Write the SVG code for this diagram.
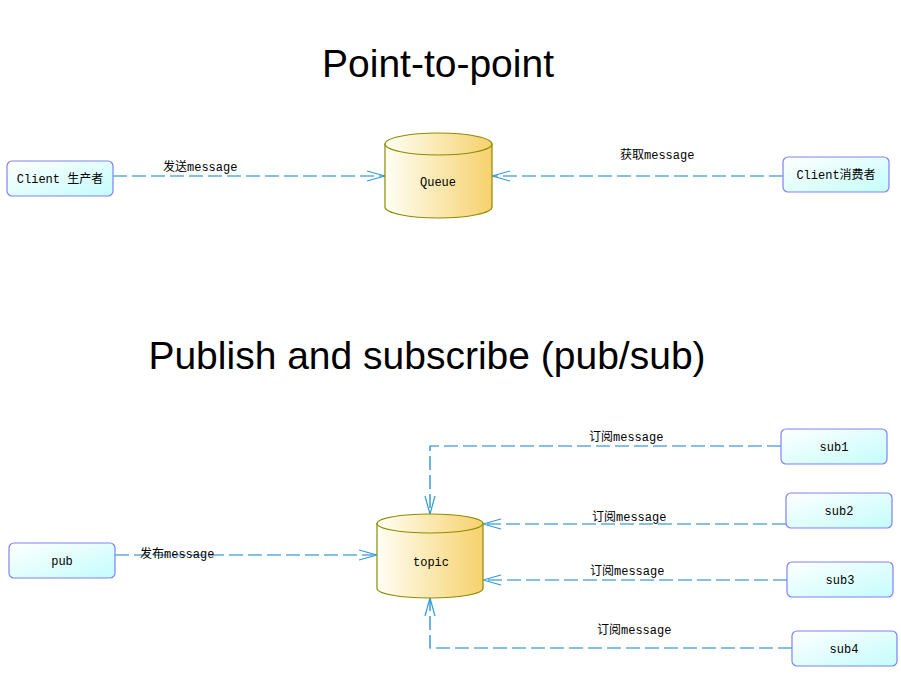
<svg xmlns="http://www.w3.org/2000/svg" width="901" height="674" viewBox="0 0 901 674">
<defs>
<linearGradient id="boxg" x1="0" y1="0" x2="1" y2="1">
<stop offset="0" stop-color="#FFFFFF"/>
<stop offset="1" stop-color="#C4FCFC"/>
</linearGradient>
<linearGradient id="cylg" x1="0" y1="0" x2="1" y2="0">
<stop offset="0" stop-color="#FFFFF6"/>
<stop offset="1" stop-color="#F7D16C"/>
</linearGradient>
<marker id="arr" viewBox="0 0 20 12" refX="19" refY="6" markerWidth="20" markerHeight="12" markerUnits="userSpaceOnUse" orient="auto">
<path d="M1,1 L19,6 L1,11" fill="none" stroke="#3399D6" stroke-width="1.2"/>
</marker>
</defs>
<style>
.box{fill:url(#boxg);stroke:#8080F8;stroke-width:1.2}
.cyl{fill:url(#cylg);stroke:#8C8C00;stroke-width:1.2}
.t{font-family:"Liberation Mono","Noto Sans CJK SC",monospace;font-size:12px;fill:#000}
.c{text-anchor:middle}
.title{font-family:"Liberation Sans",Arial,sans-serif;font-size:39px;fill:#000;text-anchor:middle}
.ln{fill:none;stroke:#0A82C8;stroke-width:1.2;stroke-dasharray:14 5}
</style>
<g id="titles">
<text class="title" x="438" y="77">Point-to-point</text>
<text class="title" x="427" y="369">Publish and subscribe (pub/sub)</text>
</g>
<g id="connectors">
<path class="ln" d="M113,176 L385,176" marker-end="url(#arr)"/>
<path class="ln" d="M783,176 L492,176" marker-end="url(#arr)"/>
<path class="ln" d="M115,555 L377,555" marker-end="url(#arr)"/>
<path class="ln" d="M781,446 L430,446 L430,514" marker-end="url(#arr)"/>
<path class="ln" d="M786,524 L483,524" marker-end="url(#arr)"/>
<path class="ln" d="M787,580 L483,580" marker-end="url(#arr)"/>
<path class="ln" d="M792,648 L430,648 L430,598" marker-end="url(#arr)"/>
<text class="t" x="163" y="171">发送message</text>
<text class="t" x="620" y="159">获取message</text>
<text class="t" x="140" y="558">发布message</text>
<text class="t" x="589" y="441">订阅message</text>
<text class="t" x="592" y="521">订阅message</text>
<text class="t" x="590" y="575">订阅message</text>
<text class="t" x="597" y="634">订阅message</text>
</g>
<g id="producer">
<rect class="box" x="7" y="161" width="106" height="35" rx="5"/>
<text class="t c" x="60" y="183">Client 生产者</text>
</g>
<g id="queue">
<path class="cyl" d="M385,144 L385,207 A53.5,11 0 0 0 492,207 L492,144 Z"/>
<ellipse class="cyl" cx="438.5" cy="144" rx="53.5" ry="11"/>
<text class="t c" x="438" y="186">Queue</text>
</g>
<g id="consumer">
<rect class="box" x="783" y="157" width="106" height="35" rx="5"/>
<text class="t c" x="836" y="179">Client消费者</text>
</g>
<g id="pub">
<rect class="box" x="9" y="543" width="106" height="35" rx="5"/>
<text class="t c" x="62" y="565">pub</text>
</g>
<g id="topic">
<path class="cyl" d="M377,523.5 L377,588.5 A53,9.5 0 0 0 483,588.5 L483,523.5 Z"/>
<ellipse class="cyl" cx="430" cy="523.5" rx="53" ry="9.5"/>
<text class="t c" x="431" y="566">topic</text>
</g>
<g id="sub1">
<rect class="box" x="781" y="429" width="106" height="35" rx="5"/>
<text class="t c" x="834" y="451">sub1</text>
</g>
<g id="sub2">
<rect class="box" x="786" y="493" width="106" height="35" rx="5"/>
<text class="t c" x="839" y="515">sub2</text>
</g>
<g id="sub3">
<rect class="box" x="787" y="562" width="106" height="35" rx="5"/>
<text class="t c" x="840" y="584">sub3</text>
</g>
<g id="sub4">
<rect class="box" x="792" y="631" width="105" height="35" rx="5"/>
<text class="t c" x="844" y="653">sub4</text>
</g>
</svg>
